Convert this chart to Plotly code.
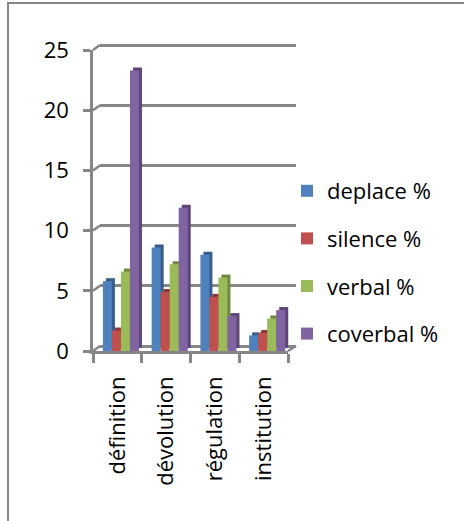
import plotly.graph_objects as go

# Data
categories = ["définition", "dévolution", "régulation", "institution"]
series_names = ["deplace %", "silence %", "verbal %", "coverbal %"]
deplace = [5.8, 8.6, 8.0, 1.3]
silence = [1.7, 4.9, 4.5, 1.5]
verbal = [6.6, 7.2, 6.1, 2.7]
coverbal = [23.3, 11.9, 2.9, 3.4]
y_ticks = [0, 5, 10, 15, 20, 25]

values = [deplace, silence, verbal, coverbal]
front_colors = ["#4F81BD", "#C0504D", "#9BBB59", "#8064A2"]
side_colors = ["#385D8A", "#8C3836", "#71893F", "#5C4776"]

FONT = "Open Sans"
GRID = "#868686"
LW = 2.5

# pixel layout of the plot area
W, H = 464, 521
L, R, T, B = 86, 296, 30, 364
PW, PH = R - L, B - T
UNIT = 301 / 25  # pixels per y unit

def px(x):
    return (x - L) / PW

def py(y):
    return (B - y) / PH

fig = go.Figure()

# empty trace so the back wall subplot (gridlines) gets drawn
fig.add_trace(go.Scatter(x=[], y=[], xaxis="x", yaxis="y", showlegend=False))

bar_w = 0.185
offsets = [-0.297 + i * bar_w for i in range(4)]

# shadow bars (side / top faces)
for i in range(4):
    fig.add_trace(go.Bar(
        x=categories, y=values[i], xaxis="x2", yaxis="y2",
        marker=dict(color=side_colors[i], line=dict(width=0)),
        width=bar_w, offset=offsets[i], showlegend=False, hoverinfo="skip"))

# front bars
for i in range(4):
    fig.add_trace(go.Bar(
        x=categories, y=values[i], xaxis="x3", yaxis="y3",
        name=series_names[i], legendgroup=series_names[i],
        marker=dict(color=front_colors[i], line=dict(width=0)),
        width=bar_w, offset=offsets[i]))

# little diagonal connectors between front axis and back wall
shapes = []
for v in y_ticks:
    yf = 351 - v * UNIT
    yb = 346 - v * UNIT
    shapes.append(dict(type="line", xref="paper", yref="paper",
                       x0=px(93), y0=py(yf), x1=px(100), y1=py(yb),
                       line=dict(color=GRID, width=LW)))
shapes.append(dict(type="line", xref="paper", yref="paper",
                   x0=px(288), y0=py(351), x1=px(296), y1=py(346),
                   line=dict(color=GRID, width=LW)))
# outer frame
shapes.append(dict(type="rect", xref="paper", yref="paper",
                   x0=px(8), y0=py(600), x1=px(600), y1=py(3),
                   line=dict(color=GRID, width=2), fillcolor="rgba(0,0,0,0)"))

fig.update_layout(
    width=W, height=H,
    margin=dict(l=L, r=W - R, t=T, b=H - B),
    paper_bgcolor="white", plot_bgcolor="rgba(0,0,0,0)",
    font=dict(family=FONT, size=22, color="black"),
    barmode="overlay",
    shapes=shapes,
    # back wall gridlines (range padded so the 0 and 25 lines are drawn)
    xaxis=dict(domain=[px(100), px(296)], visible=False, range=[0, 1]),
    yaxis=dict(domain=[py(346 + UNIT), py(45 - UNIT)], range=[-1, 26],
               tickvals=y_ticks, showgrid=True, gridcolor=GRID, gridwidth=LW,
               showticklabels=False, zeroline=False, showline=False),
    # shadow
    xaxis2=dict(domain=[px(96), px(291)], anchor="y2", visible=False,
                range=[-0.5, 3.5], type="category"),
    yaxis2=dict(domain=[py(348), py(47)], anchor="x2", visible=False, range=[0, 25]),
    # front
    xaxis3=dict(domain=[px(93), px(288)], anchor="y3", range=[-0.5, 3.5],
                type="category", tickangle=-90, tickson="boundaries",
                ticks="outside", ticklen=9, tickcolor=GRID, tickwidth=LW,
                showline=True, linecolor=GRID, linewidth=LW,
                showgrid=False, ticklabelstandoff=14,
                tickfont=dict(family=FONT, size=22)),
    yaxis3=dict(domain=[py(351), py(50)], anchor="x3", range=[0, 25],
                tickvals=y_ticks, ticks="outside", ticklen=7, tickcolor=GRID,
                tickwidth=LW, showline=True, linecolor=GRID, linewidth=LW,
                showgrid=False, zeroline=False, ticklabelstandoff=10,
                tickfont=dict(family=FONT, size=22)),
    legend=dict(x=px(287), y=py(170), xanchor="left", yanchor="top",
                tracegroupgap=16, font=dict(family=FONT, size=22),
                bgcolor="rgba(0,0,0,0)"),
)

fig.write_html("out.html",
               config={"displayModeBar": False},
               post_script="document.body.style.margin='0';"
                           "document.body.style.overflow='hidden';")
